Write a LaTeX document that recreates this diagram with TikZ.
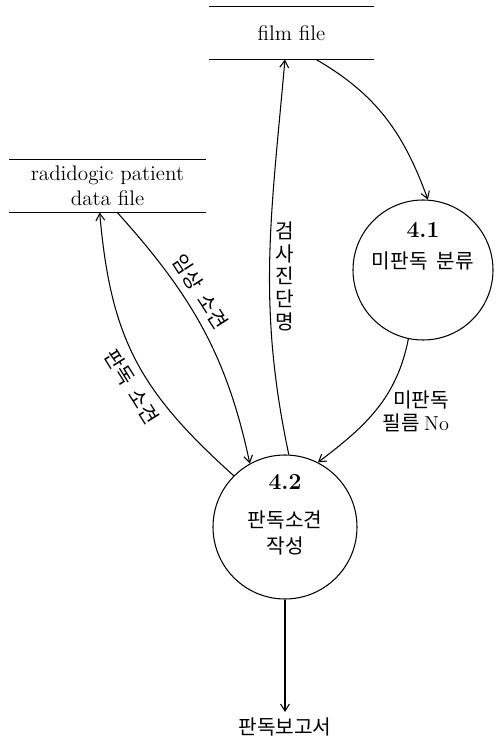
\documentclass[tikz,border=0pt]{standalone}
\usepackage{fontspec}
\usepackage{tikz}
\usetikzlibrary{arrows.meta, calc}
\newfontfamily\kr{Noto Sans CJK KR}

\tikzset{
  store/.style={minimum height=1.04cm, inner sep=0pt, align=center, font=\fontsize{12}{14.5}\selectfont},
  proc/.style={draw, circle, inner sep=0pt},
  num/.style={font=\bfseries\fontsize{13}{15}\selectfont, inner sep=1pt},
  kor/.style={font=\kr\fontsize{11.5}{13.5}\selectfont, inner sep=1pt},
  flow/.style={->},
}

\begin{document}
\begin{tikzpicture}[>={Straight Barb[length=4pt,width=5pt]}, line width=0.6pt]
      \useasboundingbox (0,0) rectangle (9.94,14.86);
      % Data stores
      \node[store, minimum width=3.26cm] (film) at (5.83,14.2) {film file};
      \node[store, minimum width=3.9cm] (patient) at (2.15,11.14) {radidogic patient\\data file};
      \draw (film.north west) -- (film.north east);
      \draw (film.south west) -- (film.south east);
      \draw (patient.north west) -- (patient.north east);
      \draw (patient.south west) -- (patient.south east);
      % Processes
      \node[proc, minimum size=2.8cm] (p41) at (8.46,9.46) {};
      \node[proc, minimum size=2.88cm] (p42) at (5.7,4.32) {};
      \node[num] (n41) at ($(p41.center)+(0,0.8)$) {4.1};
      \node[kor] (t41) at ($(p41.center)+(0,0.17)$) {미판독\ \ 분류};
      \node[num] (n42) at ($(p42.center)+(0,0.9)$) {4.2};
      \node[kor, align=center] (t42) at ($(p42.center)+(0,-0.12)$) {판독소견\\[1pt]작성};
      % Report
      \node[kor, anchor=north, inner sep=3pt] (report) at (5.7,0.62) {판독보고서};
      % Flows
      \draw[flow] ($(film.south west)!0.65!(film.south east)$) to[out=-30, in=110] (p41.86);
      \draw[flow] (p42.87) to[out=102, in=-95]
        node[kor, pos=0.45, anchor=west, xshift=2pt, align=center, font=\kr\fontsize{11.5}{13}\selectfont] {검\\사\\진\\단\\명}
        ($(film.south west)!0.46!(film.south east)$);
      \draw[flow] (p42.135) to[out=138, in=-85, looseness=1.1]
        node[kor, pos=0.42, sloped, below=3pt] {판독\ \ 소견}
        ($(patient.south west)!0.46!(patient.south east)$);
      \draw[flow] ($(patient.south west)!0.55!(patient.south east)$) to[out=-48, in=102]
        node[kor, pos=0.38, sloped, above=3pt] {임상\ \ 소견} (p42.119);
      \draw[flow] (p41.258) to[out=-101, in=37]
        node[kor, pos=0.52, anchor=west, xshift=3pt, align=right] {미판독\\필름 {\rmfamily No}} (p42.63);
      \draw[flow] (p42.south) -- (report.north);
    \end{tikzpicture}
\end{document}
